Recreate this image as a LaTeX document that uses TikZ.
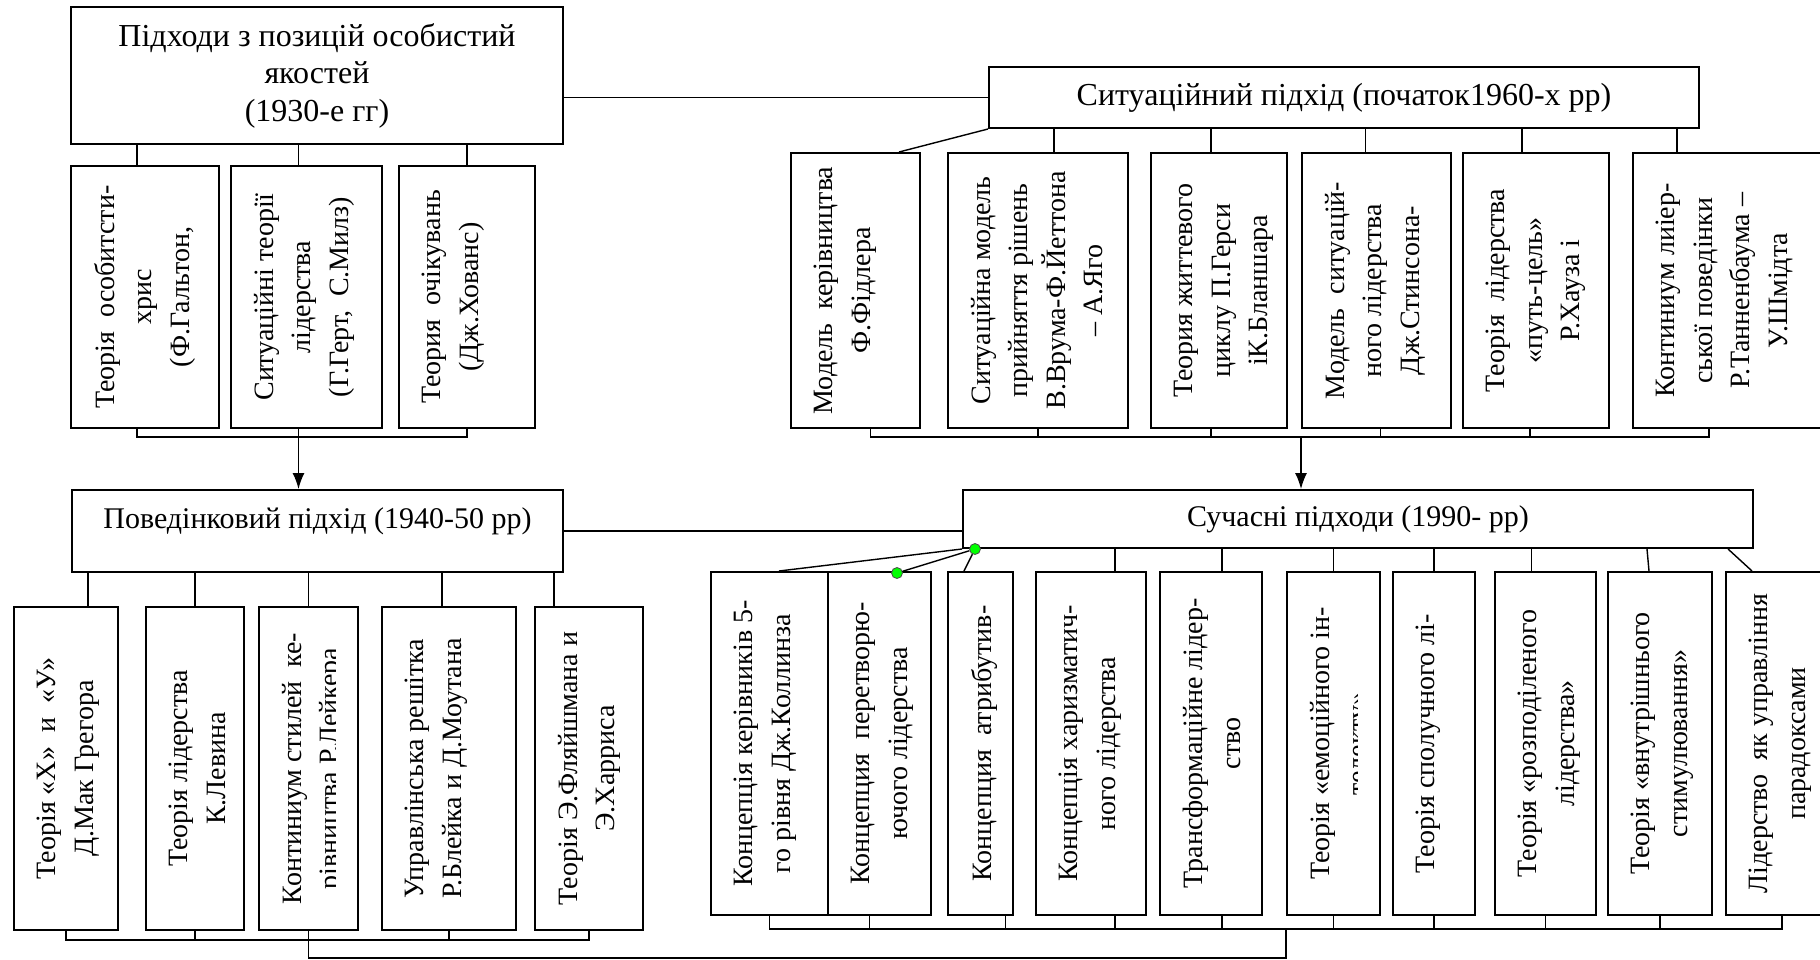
\documentclass[tikz,border=0pt]{standalone}
\usepackage{fontspec}
\setmainfont{Liberation Serif}
\usepackage{xcolor}
\usetikzlibrary{arrows.meta,positioning,calc}

\tikzset{
  box/.style={draw, line width=2pt, inner sep=0pt, anchor=north west},
  head/.style={box, align=center, font=\fontsize{32}{37.5}\selectfont},
  vtext/.style={rotate=90, anchor=north, align=center, inner sep=0pt, font=\fontsize{28}{37.5}\selectfont},
  link/.style={line width=1.4pt},
  arr/.style={line width=1.4pt, -{Latex[length=16pt,width=12pt]}},
  handle/.style={circle, draw=black!70, fill=green, line width=0.8pt, minimum size=11pt, inner sep=0pt},
}

\begin{document}
\begin{tikzpicture}[x=1pt, y=-1pt]
  \useasboundingbox (0,0) rectangle (1820,959);
  \clip (0,0) rectangle (1820,959);
  \coordinate (bustop) at (0,437);
  \coordinate (busC) at (0,940);
  \coordinate (busD) at (0,929);

  % підходи з позицій особистих якостей
  \node[head, minimum width=492, minimum height=137] (pers) at (70,6)
       {Підходи з позицій особистий\\якостей\\(1930-е гг)};
  \node[box, minimum width=148, minimum height=262] (a1) at (70,165) {};
  \node[box, minimum width=151, minimum height=262] (a2) at (230,165) {};
  \node[box, minimum width=136, minimum height=262] (a3) at (398,165) {};
  \node[vtext] (a1t) at ([xshift=24]a1.west) {Теорія~~особитсти-\\хрис\\(Ф.Гальтон,};
  \node[vtext] (a2t) at ([xshift=24]a2.west) {Ситуаційні теорії\\лідерства\\(Г.Герт,~~С.Милз)};
  \node[vtext] (a3t) at ([xshift=24]a3.west) {Теория~~очікувань\\(Дж.Хованс)};

  % ситуаційний підхід
  \node[head, minimum width=710, minimum height=61] (sit) at (988,66)
       {Ситуаційний підхід (початок1960-х рр)};
  \node[box, minimum width=129, minimum height=275] (b1) at (790,152) {};
  \node[box, minimum width=180, minimum height=275] (b2) at (947,152) {};
  \node[box, minimum width=136, minimum height=275] (b3) at (1150,152) {};
  \node[box, minimum width=149, minimum height=275] (b4) at (1301,152) {};
  \node[box, minimum width=146, minimum height=275] (b5) at (1462,152) {};
  \node[box, minimum width=208, minimum height=275] (b6) at (1632,152) {};
  \node[vtext] (b1t) at ([xshift=24]b1.west) {Модель~~керівництва\\Ф.Фідлера};
  \node[vtext] (b2t) at ([xshift=24]b2.west) {Ситуаційна модель\\прийняття рішень\\В.Врума-Ф.Йеттона\\– А.Яго};
  \node[vtext] (b3t) at ([xshift=24]b3.west) {Теория життевого\\циклу П.Герси\\іК.Бланшара};
  \node[vtext] (b4t) at ([xshift=24]b4.west) {Модель~~ситуацій-\\ного лідерства\\Дж.Стинсона-};
  \node[vtext] (b5t) at ([xshift=24]b5.west) {Теорія~~лідерства\\«путь-цель»\\Р.Хауза і};
  \node[vtext] (b6t) at ([xshift=24]b6.west) {Континиум лиіер-\\ської поведінки\\Р.Танненбаума –\\У.Шмідта};

  % поведінковий підхід
  \node[box, minimum width=491, minimum height=82] (behav) at (71,489) {};
  \node[inner sep=0pt, font=\fontsize{30}{37.5}\selectfont] (behavt) at ([yshift=10]behav.center)
       {Поведінковий підхід (1940-50 рр)};
  \node[box, minimum width=104, minimum height=323] (c1) at (13,606) {};
  \node[box, minimum width=98, minimum height=323] (c2) at (145,606) {};
  \node[box, minimum width=99, minimum height=323] (c3) at (258,606) {};
  \node[box, minimum width=134, minimum height=323] (c4) at (381,606) {};
  \node[box, minimum width=108, minimum height=323] (c5) at (534,606) {};
  \node[vtext] (c1t) at ([xshift=24]c1.west) {Теорія «Х»~~и~~«У»\\Д.Мак Грегора};
  \node[vtext] (c2t) at ([xshift=24]c2.west) {Теорія лідерства\\К.Левина};
  \begin{scope}
    \clip (c3.north west) rectangle ([xshift=-24]c3.south east);
    \node[vtext] (c3t) at ([xshift=24]c3.west) {Континиум стилей~~ке-\\рівництва Р.Лейкера};
  \end{scope}
  \node[vtext] (c4t) at ([xshift=24]c4.west) {Управлінська решітка\\Р.Блейка и Д.Моутана};
  \node[vtext] (c5t) at ([xshift=24]c5.west) {Теорія Э.Фляйшмана и\\Э.Харриса};

  % сучасні підходи
  \node[head, minimum width=790, minimum height=58, font=\fontsize{30}{37.5}\selectfont] (modern) at (962,489)
       {Сучасні підходи (1990- рр)};
  \node[box, minimum width=117, minimum height=343] (d1) at (710,571) {};
  \node[box, minimum width=103, minimum height=343] (d2) at (827,571) {};
  \node[box, minimum width=65, minimum height=343] (d3) at (947,571) {};
  \node[box, minimum width=110, minimum height=343] (d4) at (1035,571) {};
  \node[box, minimum width=102, minimum height=343] (d5) at (1159,571) {};
  \node[box, minimum width=93, minimum height=343] (d6) at (1286,571) {};
  \node[box, minimum width=82, minimum height=343] (d7) at (1392,571) {};
  \node[box, minimum width=101, minimum height=343] (d8) at (1494,571) {};
  \node[box, minimum width=104, minimum height=343] (d9) at (1607,571) {};
  \node[box, minimum width=115, minimum height=343] (d10) at (1725,571) {};
  \node[vtext] (d1t) at ([xshift=24]d1.west) {Концепція керівників 5-\\го рівня Дж.Коллинза};
  \node[vtext] (d2t) at ([xshift=24]d2.west) {Концепция~~перетворю-\\ючого лідерства};
  \node[vtext] (d3t) at ([xshift=24]d3.west) {Концепция~~атрибутив-};
  \node[vtext] (d4t) at ([xshift=24]d4.west) {Концепція харизматич-\\ного лідерства};
  \node[vtext] (d5t) at ([xshift=24]d5.west) {Трансформаційне лідер-\\ство};
  \begin{scope}
    \clip (d6.north west) rectangle ([xshift=-24]d6.south east);
    \node[vtext] (d6t) at ([xshift=24]d6.west) {Теорія «емоційного ін-\\телекту»};
  \end{scope}
  \node[vtext] (d7t) at ([xshift=24]d7.west) {Теорія сполучного лі-};
  \node[vtext] (d8t) at ([xshift=24]d8.west) {Теорія «розподіленого\\лідерства»};
  \node[vtext] (d9t) at ([xshift=24]d9.west) {Теорія «внутрішнього\\стимулювання»};
  \node[vtext] (d10t) at ([xshift=24]d10.west) {Лідерство~~як управління\\парадоксами};

  % зв'язки верхнього лівого блоку
  \draw[link] (pers.east |- sit.west) -- (sit.west);
  \draw[link] ([xshift=-8]a1.north) -- ([xshift=-8]a1.north |- pers.south);
  \draw[link] ([xshift=-8]a2.north) -- ([xshift=-8]a2.north |- pers.south);
  \draw[link] (a3.north) -- (a3.north |- pers.south);
  \draw[link] ([xshift=-8]a1.south) |- (a3.south |- bustop) -- (a3.south);
  \draw[arr] ([xshift=-8]a2.south) -- ([xshift=-8]a2.south |- behav.north);

  % зв'язки ситуаційного підходу
  \draw[link] (sit.south west) -- ([xshift=109]b1.north west);
  \draw[link] ([xshift=16]b2.north) -- ([xshift=16]b2.north |- sit.south);
  \draw[link] ([xshift=-8]b3.north) -- ([xshift=-8]b3.north |- sit.south);
  \draw[link] ([xshift=-11]b4.north) -- ([xshift=-11]b4.north |- sit.south);
  \draw[link] ([xshift=-14]b5.north) -- ([xshift=-14]b5.north |- sit.south);
  \draw[link] ([xshift=45]b6.north west) -- ([xshift=45]b6.north west |- sit.south);
  \draw[link] ([xshift=15]b1.south) |- ([xshift=77]b6.south west |- bustop) -- ([xshift=77]b6.south west);
  \draw[link] (b2.south) -- (b2.south |- bustop);
  \draw[link] ([xshift=-8]b3.south) -- ([xshift=-8]b3.south |- bustop);
  \draw[link] ([xshift=4]b4.south) -- ([xshift=4]b4.south |- bustop);
  \draw[link] ([xshift=-6]b5.south) -- ([xshift=-6]b5.south |- bustop);
  \draw[arr] (b4.south west |- bustop) -- (b4.south west |- modern.north);

  % зв'язки поведінкового підходу
  \draw[link] (behav.east) -- (behav.east -| modern.west);
  \draw[link] ([xshift=22]c1.north) -- ([xshift=22]c1.north |- behav.south);
  \draw[link] (c2.north) -- (c2.north |- behav.south);
  \draw[link] (c3.north) -- (c3.north |- behav.south);
  \draw[link] ([xshift=-7]c4.north) -- ([xshift=-7]c4.north |- behav.south);
  \draw[link] ([xshift=-35]c5.north) -- ([xshift=-35]c5.north |- behav.south);
  \draw[link] (c1.south) |- (c5.south |- busC) -- (c5.south);
  \draw[link] (c2.south) -- (c2.south |- busC);
  \draw[link] (c3.south) -- (c3.south |- busC);
  \draw[link] (c4.south) -- (c4.south |- busC);
  \draw[link] (c3.south |- busC) -- ++(0,18) -| (d6.south west |- busD);

  % зв'язки сучасних підходів
  \node[handle] (h1) at (975,549) {};
  \node[handle] (h2) at (897,573) {};
  \draw[link] (modern.south west) -- ([xshift=69]d1.north west);
  \draw[link] (h1) -- (h2);
  \draw[link] (h1) -- ([xshift=17]d3.north west);
  \draw[link] ([xshift=24]d4.north) -- ([xshift=24]d4.north |- modern.south);
  \draw[link] ([xshift=11]d5.north) -- ([xshift=11]d5.north |- modern.south);
  \draw[link] (d6.north) -- (d6.north |- modern.south);
  \draw[link] (d7.north) -- (d7.north |- modern.south);
  \draw[link] ([xshift=-14]d8.north) -- ([xshift=-14]d8.north |- modern.south);
  \draw[link] ([xshift=-11]d9.north) -- ([xshift=-13]d9.north |- modern.south);
  \draw[link] ([xshift=-26]modern.south east) -- ([xshift=27]d10.north west);
  \draw[link] (d1.south) |- ([xshift=57]d10.south west |- busD) -- ([xshift=57]d10.south west);
  \draw[link] ([xshift=-10]d2.south) -- ([xshift=-10]d2.south |- busD);
  \draw[link] ([xshift=25]d3.south) -- ([xshift=25]d3.south |- busD);
  \draw[link] ([xshift=24]d4.south) -- ([xshift=24]d4.south |- busD);
  \draw[link] ([xshift=11]d5.south) -- ([xshift=11]d5.south |- busD);
  \draw[link] (d6.south) -- (d6.south |- busD);
  \draw[link] (d7.south) -- (d7.south |- busD);
  \draw[link] (d8.south) -- (d8.south |- busD);
  \draw[link] (d9.south) -- (d9.south |- busD);
\end{tikzpicture}
\end{document}
